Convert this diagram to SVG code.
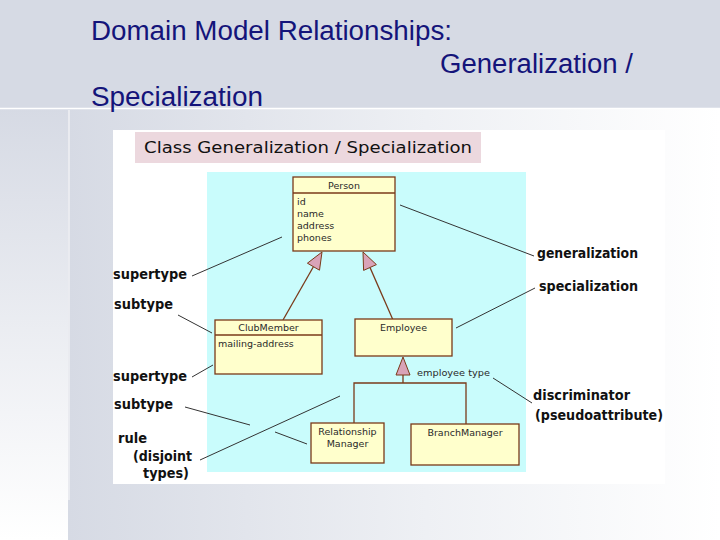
<svg xmlns="http://www.w3.org/2000/svg" width="720" height="540" viewBox="0 0 720 540">
<defs>
<linearGradient id="gh" x1="0" y1="0" x2="1" y2="0"><stop offset="0" stop-color="#d6dae4"/><stop offset="0.55" stop-color="#eef0f4"/><stop offset="1" stop-color="#ffffff"/></linearGradient>
<linearGradient id="gv" x1="0" y1="0" x2="0" y2="1"><stop offset="0" stop-color="#d6dae4"/><stop offset="1" stop-color="#ffffff"/></linearGradient>
<linearGradient id="crossH" x1="0" y1="0" x2="1" y2="0"><stop offset="0" stop-color="#1a1a80" stop-opacity="0"/><stop offset="0.5" stop-color="#1a1a80"/><stop offset="1" stop-color="#1a1a80" stop-opacity="0"/></linearGradient>
<linearGradient id="crossV" x1="0" y1="0" x2="0" y2="1"><stop offset="0" stop-color="#1a1a80" stop-opacity="0"/><stop offset="0.75" stop-color="#1a1a80"/><stop offset="1" stop-color="#1a1a80" stop-opacity="0"/></linearGradient>
</defs>
<style>
.title{font-family:"Liberation Sans",Arial,sans-serif;font-size:27px;fill:#14147a}
.box{fill:#ffffcc;stroke:#7a3a1a;stroke-width:1.3}
.sep{stroke:#7a3a1a;stroke-width:1.3}
.tri{fill:#d9a3b8;stroke:#7a3a1a;stroke-width:1}
.uml{font-family:"DejaVu Sans",Verdana,sans-serif;font-size:9.5px;fill:#2a2a2a}
.ann{font-family:"DejaVu Sans",sans-serif;font-size:14px;font-weight:bold;fill:#111}
.lead{stroke:#333;stroke-width:1;fill:none}
.rel{stroke:#7a3a1a;stroke-width:1.3;fill:none}
</style>
<!-- background -->
<rect x="0" y="0" width="720" height="540" fill="#d6dae4"/>
<rect x="68" y="108" width="652" height="432" fill="url(#gh)"/>
<rect x="0" y="108" width="68" height="432" fill="url(#gv)"/>
<line x1="0" y1="108.5" x2="720" y2="108.5" stroke="#ffffff" stroke-width="1.5"/>
<line x1="69" y1="110" x2="69" y2="500" stroke="#ffffff" stroke-width="1.2" opacity="0.8"/>
<line x1="25" y1="108" x2="110" y2="108" stroke="url(#crossH)" stroke-width="1.5"/>
<line x1="68" y1="50" x2="68" y2="140" stroke="url(#crossV)" stroke-width="1.5"/>
<!-- slide title -->
<g id="slide-title">
<text class="title" x="91" y="40" textLength="361" lengthAdjust="spacingAndGlyphs">Domain Model Relationships:</text>
<text class="title" x="440" y="73" textLength="193" lengthAdjust="spacingAndGlyphs">Generalization /</text>
<text class="title" x="91" y="106" textLength="172" lengthAdjust="spacingAndGlyphs">Specialization</text>
</g>
<!-- picture panel -->
<rect x="113" y="130" width="552" height="354" fill="#ffffff"/>
<g id="panel-title">
<rect x="135" y="132" width="346" height="31" fill="#ecd8de"/>
<text x="144" y="153" font-family="'DejaVu Sans',Verdana,sans-serif" font-size="15" fill="#111" textLength="328" lengthAdjust="spacingAndGlyphs">Class Generalization /  Specialization</text>
</g>
<rect x="207" y="172" width="319" height="300" fill="#c9fcfc"/>
<!-- connectors -->
<g id="connectors">
<line class="rel" x1="283" y1="320" x2="313.4" y2="266.7"/>
<line class="rel" x1="393" y1="320" x2="370" y2="267.5"/>
<polyline class="rel" points="354,423 354,383 466,383 466,424"/>
<line class="rel" x1="403" y1="375" x2="403" y2="383"/>
<polygon class="tri" points="322,252 319.5,270.2 307.4,263.2"/>
<polygon class="tri" points="363,252 376.4,264.6 363.6,270.4"/>
<polygon class="tri" points="403,357 396,375 410,375"/>
<!-- annotation leaders -->
<line class="lead" x1="192" y1="276" x2="282" y2="237"/>
<line class="lead" x1="178" y1="315" x2="212" y2="333"/>
<line class="lead" x1="400" y1="205" x2="534" y2="256"/>
<line class="lead" x1="456" y1="328" x2="535" y2="288"/>
<line class="lead" x1="192" y1="377" x2="213" y2="365"/>
<line class="lead" x1="185" y1="407" x2="250" y2="425"/>
<line class="lead" x1="275" y1="432" x2="307" y2="444"/>
<line class="lead" x1="200" y1="460" x2="340" y2="396"/>
<line class="lead" x1="493" y1="378" x2="532" y2="403"/>
</g>
<!-- nodes -->
<g id="person">
<rect class="box" x="293" y="177" width="102" height="74"/>
<line class="sep" x1="293" y1="193" x2="395" y2="193"/>
<text class="uml" x="344" y="189" text-anchor="middle">Person</text>
<text class="uml" x="297" y="205">id</text>
<text class="uml" x="297" y="217">name</text>
<text class="uml" x="297" y="229">address</text>
<text class="uml" x="297" y="241">phones</text>
</g>
<g id="clubmember">
<rect class="box" x="215" y="320" width="107" height="54"/>
<line class="sep" x1="215" y1="335" x2="322" y2="335"/>
<text class="uml" x="268.5" y="331" text-anchor="middle">ClubMember</text>
<text class="uml" x="218" y="347">mailing-address</text>
</g>
<g id="employee">
<rect class="box" x="355" y="319" width="97" height="37"/>
<text class="uml" x="403.5" y="331" text-anchor="middle">Employee</text>
</g>
<g id="relationshipmanager">
<rect class="box" x="311" y="423" width="73" height="40"/>
<text class="uml" x="347.5" y="435" text-anchor="middle">Relationship</text>
<text class="uml" x="347.5" y="447" text-anchor="middle">Manager</text>
</g>
<g id="branchmanager">
<rect class="box" x="411" y="424" width="108" height="41"/>
<text class="uml" x="465" y="436" text-anchor="middle">BranchManager</text>
</g>
<g id="discriminator-label">
<text class="uml" x="417" y="376" textLength="73" lengthAdjust="spacingAndGlyphs" fill="#444">employee type</text>
</g>
<!-- annotations -->
<g id="annotations">
<text class="ann" x="113" y="279" textLength="74" lengthAdjust="spacingAndGlyphs">supertype</text>
<text class="ann" x="114" y="309" textLength="59" lengthAdjust="spacingAndGlyphs">subtype</text>
<text class="ann" x="113" y="381" textLength="74" lengthAdjust="spacingAndGlyphs">supertype</text>
<text class="ann" x="114" y="409" textLength="59" lengthAdjust="spacingAndGlyphs">subtype</text>
<text class="ann" x="118" y="443" textLength="29" lengthAdjust="spacingAndGlyphs">rule</text>
<text class="ann" x="133" y="461" textLength="59" lengthAdjust="spacingAndGlyphs">(disjoint</text>
<text class="ann" x="143" y="478" textLength="46" lengthAdjust="spacingAndGlyphs">types)</text>
<text class="ann" x="537" y="258" textLength="101" lengthAdjust="spacingAndGlyphs">generalization</text>
<text class="ann" x="539" y="291" textLength="99" lengthAdjust="spacingAndGlyphs">specialization</text>
<text class="ann" x="533" y="400" textLength="97" lengthAdjust="spacingAndGlyphs">discriminator</text>
<text class="ann" x="535" y="420" textLength="128" lengthAdjust="spacingAndGlyphs">(pseudoattribute)</text>
</g>
</svg>
